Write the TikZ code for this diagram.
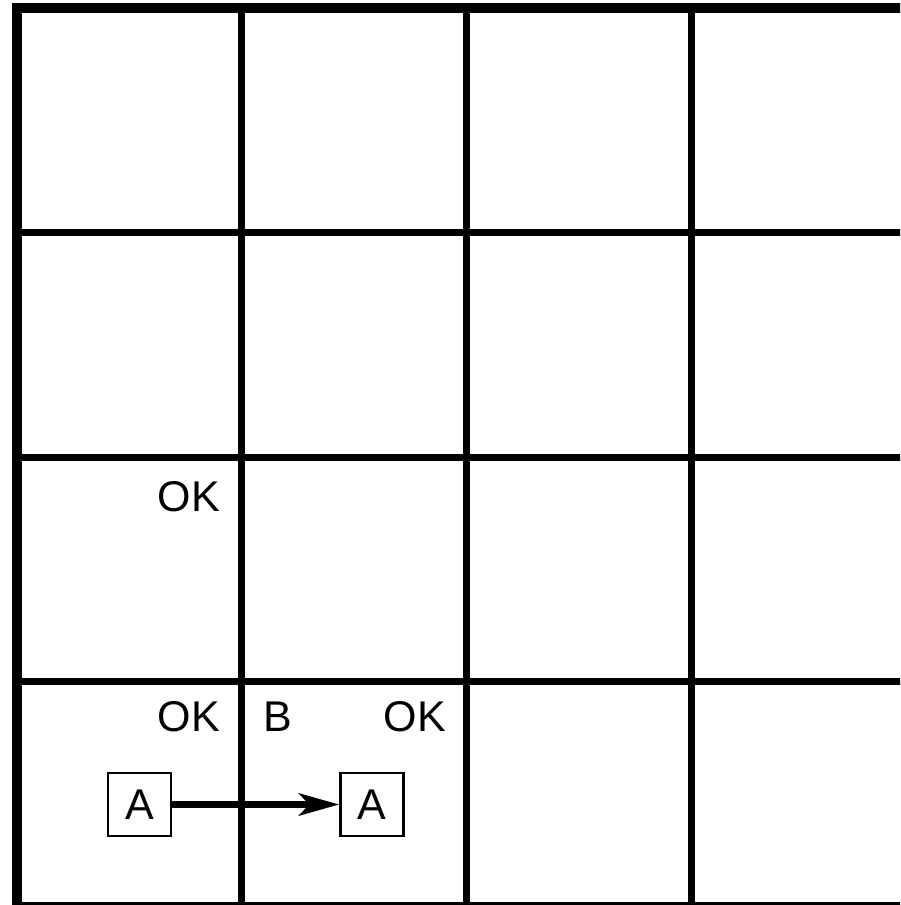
\documentclass[tikz,border=0pt]{standalone}
\usepackage{fontspec}
\setmainfont{Liberation Sans}
\usetikzlibrary{arrows.meta, positioning}

\tikzset{
  lbl/.style={inner sep=0pt, font=\fontsize{43}{51}\selectfont},
  agent/.style={draw, line width=2.5pt, minimum size=63pt, inner sep=0pt, font=\fontsize{43}{51}\selectfont}
}

\begin{document}
\begin{tikzpicture}[x=1pt, y=-1pt]
  \useasboundingbox (0,0) rectangle (900,905);
  \begin{scope}
    \clip (0,0) rectangle (900,905);
    % Grid
    \foreach \i in {1,2,3} {
      \draw[line width=7pt] (16.5+225*\i,7.5) -- (16.5+225*\i,906.5);
      \draw[line width=7pt] (16.5,7.5+224.75*\i) -- (916.5,7.5+224.75*\i);
    }
    \draw[line width=10pt] (16.5,7.5) rectangle (916.5,906.5);
  \end{scope}
  % Labels
  \node[lbl, anchor=base east] (ok1) at (220,511) {OK};
  \node[lbl, anchor=base east] (ok2) at (220,731) {OK};
  \node[lbl, anchor=base west] (b) at (263,731) {B};
  \node[lbl, anchor=base east] (ok3) at (446,731) {OK};
  % Agents
  \node[agent] (a1) at (139.5,804.5) {A};
  \node[agent] (a2) at (372,804.5) {A};
  \draw[line width=7pt, -{Stealth[length=40pt, width=22pt, inset=10pt]}] (a1) -- (a2);
\end{tikzpicture}
\end{document}
